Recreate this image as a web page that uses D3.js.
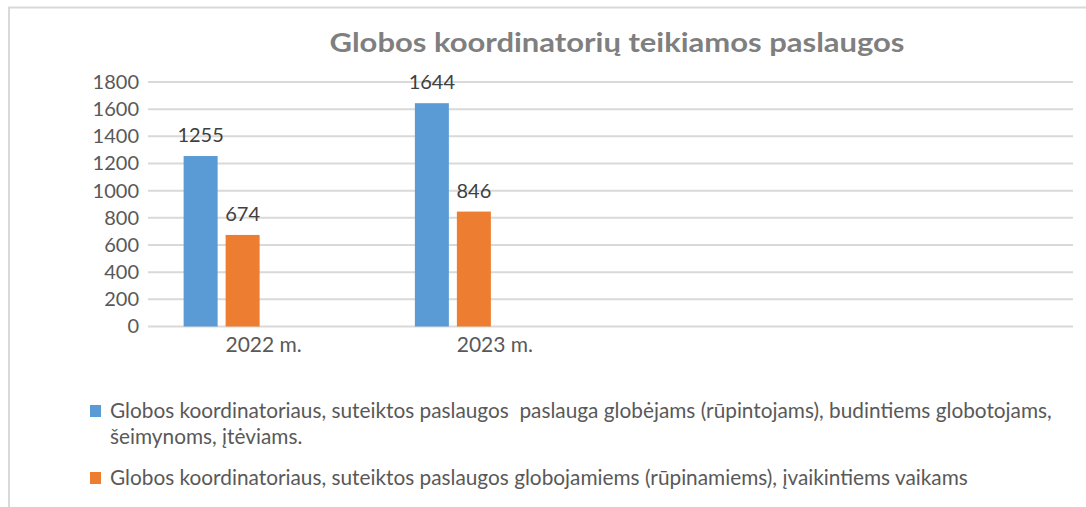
<!DOCTYPE html>
<html>
<head>
<meta charset="utf-8">
<script src="https://cdn.jsdelivr.net/npm/d3@7"></script>
<style>
  body { margin: 0; background: #fff; }
  svg { display: block; font-family: Lato, "Open Sans", sans-serif; }
</style>
</head>
<body>
<div id="chart"></div>
<script>
// data
var categories = ["2022 m.", "2023 m.", "", ""];
var seriesNames = [
  "Globos koordinatoriaus, suteiktos paslaugos  paslauga globėjams (rūpintojams), budintiems globotojams, šeimynoms, įtėviams.",
  "Globos koordinatoriaus, suteiktos paslaugos globojamiems (rūpinamiems), įvaikintiems vaikams",
  "",
  ""
];
var seriesA = [1255, 1644, null, null];
var seriesB = [674, 846, null, null];
var seriesC = [null, null, null, null];
var seriesD = [null, null, null, null];
var yTicks = [0, 200, 400, 600, 800, 1000, 1200, 1400, 1600, 1800];

var allSeries = [seriesA, seriesB, seriesC, seriesD];
var colors = ["#5b9bd5", "#ed7d31", "#a5a5a5", "#ffc000"];

var width = 1086, height = 507;
var svg = d3.select("#chart").append("svg")
  .attr("width", width).attr("height", height);

// chart frame (clipped at right/bottom like the source)
svg.append("path")
  .attr("d", "M9,507 V7.5 H1086")
  .attr("fill", "none").attr("stroke", "#d9d9d9").attr("stroke-width", 2);

svg.append("text")
  .attr("x", 617).attr("y", 52)
  .attr("text-anchor", "middle")
  .attr("font-size", 27).attr("font-weight", "bold")
  .attr("fill", "#7f7f7f")
  .attr("textLength", 575).attr("lengthAdjust", "spacingAndGlyphs")
  .text("Globos koordinatorių teikiamos paslaugos");

var x0 = d3.scaleBand().domain(d3.range(categories.length)).range([148, 1073]);
var groupW = 160;
var x1 = d3.scaleBand().domain(d3.range(allSeries.length)).range([0, groupW]).paddingInner(8 / 42);
var y = d3.scaleLinear().domain([0, 1800]).range([326.5, 82]);

// gridlines
svg.append("g").selectAll("line").data(yTicks).enter().append("line")
  .attr("x1", 148).attr("x2", 1073)
  .attr("y1", function (d) { return y(d); })
  .attr("y2", function (d) { return y(d); })
  .attr("stroke", "#d9d9d9").attr("stroke-width", 2);

// y axis labels
var yAxis = d3.axisLeft(y).tickValues(yTicks).tickFormat(d3.format("d")).tickSize(0).tickPadding(0);
var gy = svg.append("g").attr("transform", "translate(139,0)").call(yAxis);
gy.select(".domain").remove();
gy.selectAll("text").attr("font-size", 20).attr("fill", "#595959")
  .attr("font-family", "Lato, sans-serif").attr("dy", "0.32em");

// x axis labels
var xAxis = d3.axisBottom(x0).tickFormat(function (i) { return categories[i]; }).tickSize(0).tickPadding(0);
var gx = svg.append("g").attr("transform", "translate(0,352)").call(xAxis);
gx.select(".domain").remove();
gx.selectAll("text").attr("font-size", 21).attr("fill", "#595959")
  .attr("font-family", "Lato, sans-serif").attr("dy", "0");

// bars
allSeries.forEach(function (vals, s) {
  var g = svg.append("g");
  var pts = vals.map(function (v, i) { return { v: v, i: i }; })
    .filter(function (d) { return d.v != null; });
  g.selectAll("rect").data(pts).enter().append("rect")
    .attr("x", function (d) { return x0(d.i) + (x0.bandwidth() - groupW) / 2 + x1(s); })
    .attr("width", x1.bandwidth())
    .attr("y", function (d) { return y(d.v); })
    .attr("height", function (d) { return y(0) - y(d.v); })
    .attr("fill", colors[s]);
  g.selectAll("text").data(pts).enter().append("text")
    .attr("x", function (d) { return x0(d.i) + (x0.bandwidth() - groupW) / 2 + x1(s) + x1.bandwidth() / 2; })
    .attr("y", function (d) { return y(d.v) - 14; })
    .attr("text-anchor", "middle")
    .attr("font-size", 20).attr("fill", "#404040")
    .text(function (d) { return d.v; });
});

// legend
var legend = [
  { s: 0, y: 411, lines: ["Globos koordinatoriaus, suteiktos paslaugos  paslauga globėjams (rūpintojams), budintiems globotojams,", "šeimynoms, įtėviams."] },
  { s: 1, y: 478, lines: [seriesNames[1]] }
];
legend.forEach(function (l) {
  svg.append("rect").attr("x", 90).attr("y", l.y - 6).attr("width", 11).attr("height", 12)
    .attr("fill", colors[l.s]);
  var t = svg.append("text").attr("x", 110).attr("y", l.y)
    .attr("font-size", 20.8).attr("fill", "#595959").style("white-space", "pre");
  l.lines.forEach(function (line, k) {
    t.append("tspan").attr("x", 110).attr("dy", k === 0 ? "0.35em" : "1.25em").text(line);
  });
});
</script>
</body>
</html>
